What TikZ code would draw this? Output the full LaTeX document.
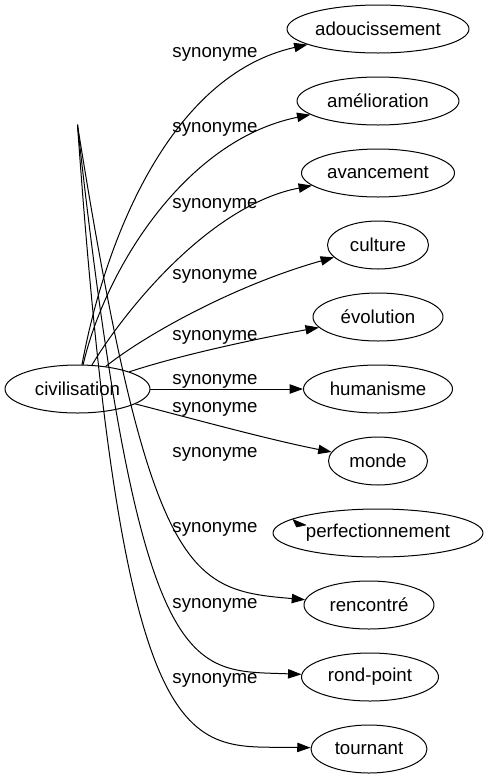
\documentclass[tikz,border=0pt]{standalone}
\usepackage{fontspec}
\setmainfont{Liberation Sans}
\usetikzlibrary{shapes.geometric,arrows.meta}
\begin{document}
\begin{tikzpicture}[x=0.75pt, y=-0.75pt, line join=round, line cap=round,
	>={Triangle[length=10pt,width=7pt]}, font=\fontsize{14}{16}\selectfont,
	word/.style={draw, ellipse, line width=0.75pt, inner sep=0pt, minimum height=36pt},
	syn/.style={->, line width=0.75pt},
	lbl/.style={anchor=base, inner sep=0pt}]
	\useasboundingbox (0,0) rectangle (489,779);
	%%%%%%%%%%%%%%%%%%%%%%%%%%%%%%%%%
	\node[word, minimum width=108.75pt] (civ) at (77.5,389) {civilisation};
	\node[word, minimum width=136.5pt] (adou) at (378,29) {adoucissement};
	\node[word, minimum width=121.5pt] (amel) at (378,101) {amélioration};
	\node[word, minimum width=114.75pt] (avan) at (378,173) {avancement};
	\node[word, minimum width=75.75pt] (cult) at (378,245) {culture};
	\node[word, minimum width=97.5pt] (evol) at (378,317) {évolution};
	\node[word, minimum width=111.75pt] (huma) at (378,389) {humanisme};
	\node[word, minimum width=74.25pt] (mond) at (378,461) {monde};
	\node[word, minimum width=157.5pt] (perf) at (378,533) {perfectionnement};
	\node[word, minimum width=97.5pt] (renc) at (369,605) {rencontré};
	\node[word, minimum width=102.75pt] (rond) at (370,677) {rond-point};
	\node[word, minimum width=87pt] (tour) at (369,749) {tournant};
	\coordinate (J) at (77.5,125);
	%%%%%%%%%%%%%%%%%%%%%%%%%%%%%%%%%
	\draw[syn] (civ) .. controls (105,240) and (170,75) .. (adou);
	\draw[syn] (civ) .. controls (105,270) and (185,140) .. (amel);
	\draw[syn] (civ) .. controls (125,310) and (210,205) .. (avan);
	\draw[syn] (civ) .. controls (145,335) and (235,285) .. (cult);
	\draw[syn] (civ) .. controls (180,355) and (260,338) .. (evol);
	\draw[syn] (civ) -- (huma);
	\draw[syn] (civ) .. controls (190,418) and (270,440) .. (mond);
	\draw[syn] (J) .. controls (150,580) and (190,590) .. (renc);
	\draw[syn] (J) .. controls (140,690) and (190,670) .. (rond);
	\draw[syn] (J) .. controls (124,785) and (190,745) .. (tour);
	\filldraw (293,519.5) -- (296.5,527) -- (306,525) -- cycle;
	%%%%%%%%%%%%%%%%%%%%%%%%%%%%%%%%%
	\node[lbl] (l1) at (215,57) {synonyme};
	\node[lbl] (l2) at (215,132) {synonyme};
	\node[lbl] (l3) at (215,208) {synonyme};
	\node[lbl] (l4) at (215,279) {synonyme};
	\node[lbl] (l5) at (215,340) {synonyme};
	\node[lbl] (l6) at (215,384) {synonyme};
	\node[lbl] (l7) at (215,412) {synonyme};
	\node[lbl] (l8) at (215,457) {synonyme};
	\node[lbl] (l9) at (215,532) {synonyme};
	\node[lbl] (l10) at (215,608) {synonyme};
	\node[lbl] (l11) at (215,683) {synonyme};
	%%%%%%%%%%%%%%%%%%%%%%%%%%%%%%%%%
\end{tikzpicture}
\end{document}
